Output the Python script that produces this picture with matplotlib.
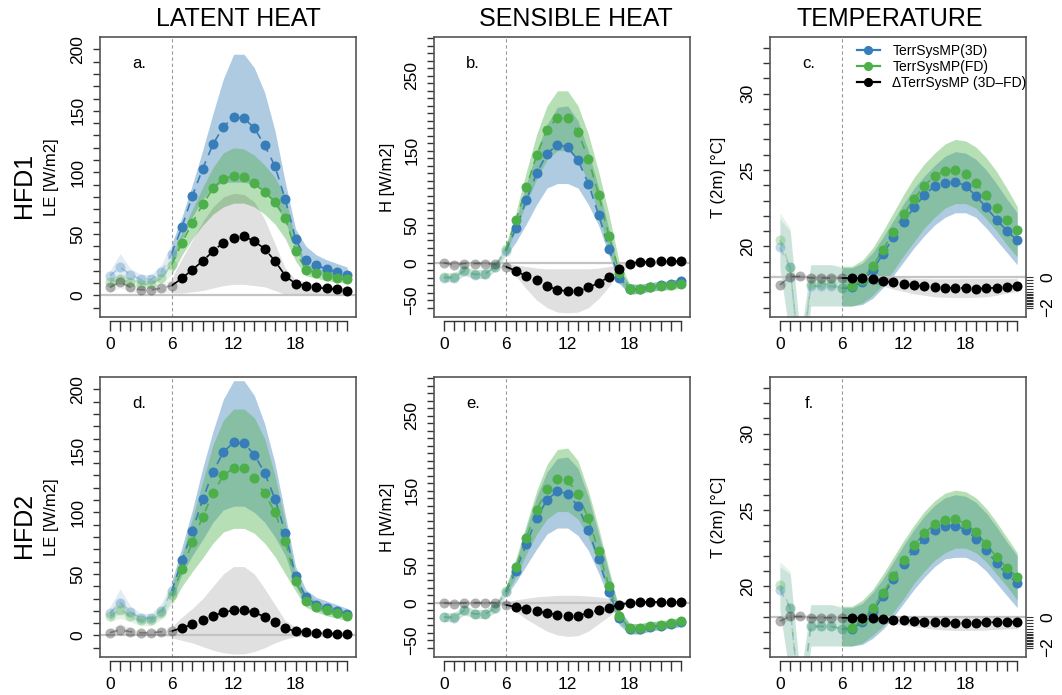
import numpy as np
import matplotlib
matplotlib.use("Agg")
import matplotlib.pyplot as plt
from matplotlib.lines import Line2D
from matplotlib.ticker import FixedLocator, FuncFormatter

plt.rcParams['font.family'] = ['Liberation Sans', 'DejaVu Sans']

hours = np.arange(24)
hour_labels = {0: "0", 6: "6", 12: "12", 18: "18"}

col_titles = ["LATENT HEAT", "SENSIBLE HEAT", "TEMPERATURE"]
row_titles = ["HFD1", "HFD2"]
series_names = ["TerrSysMP(3D)", "TerrSysMP(FD)", "\u0394TerrSysMP (3D\u2013FD)"]

# ---------------- Latent heat, HFD1 ----------------
LE1_3D = [16, 23, 17, 13, 13, 19, 34, 56, 81, 103, 123, 137, 145, 144, 136, 122, 105, 78, 46, 29, 24.5, 21.5, 19, 17]
LE1_3D_lo = [12, 14, 13, 9, 9, 14, 26, 46, 64, 78, 88, 92, 92, 92, 90, 84, 74, 60, 38, 22, 18, 16, 14, 13]
LE1_3D_hi = [20, 34, 22, 17, 17, 25, 42, 64, 90, 118, 148, 176, 196, 196, 185, 165, 134, 92, 54, 40, 33, 29, 26, 23]
LE1_FD = [11, 13, 11, 9, 9, 14, 25, 43, 59, 74, 87, 95, 97, 96, 91, 84, 76, 63, 36, 21, 18, 16, 14, 13]
LE1_FD_lo = [8, 9, 8, 6, 6, 10, 17, 33, 46, 57, 66, 72, 75, 75, 72, 66, 58, 46, 28, 16, 14, 12, 11, 10]
LE1_FD_hi = [14, 17, 14, 12, 12, 18, 32, 52, 70, 88, 104, 116, 120, 119, 114, 106, 96, 80, 46, 26, 22, 20, 18, 17]
LE1_D = [6.5, 11, 6.5, 4.5, 4.5, 6, 8, 14, 21, 28, 36, 43, 47, 48, 44, 38, 28, 16, 9.4, 8, 6.5, 5.7, 5, 4]
LE1_D_lo = [3, 6, 3, 2, 2, 3, 2, 2, 3, 4, 6, 8, 9, 9, 8, 7, 4, 1, 0.5, 1, 1, 1, 1, 1]
LE1_D_hi = [9, 16, 9, 7, 7, 9, 14, 30, 45, 60, 72, 80, 83, 82, 76, 62, 42, 22, 13, 11, 9, 8, 7, 6]

# ---------------- Latent heat, HFD2 ----------------
LE2_3D = [18, 26.5, 19, 14, 14, 20, 36, 61, 85, 110.5, 133, 149, 157, 156, 147, 132, 111, 83.5, 48, 31, 25, 22.5, 20, 17.6]
LE2_3D_lo = [13, 18, 14, 10, 10, 15, 28, 50, 65, 78, 92, 102, 105, 105, 100, 92, 80, 65, 40, 26, 21, 18, 16, 14]
LE2_3D_hi = [23, 38, 24, 18, 18, 26, 44, 72, 102, 136, 166, 192, 207, 207, 195, 172, 140, 98, 56, 37, 31, 28, 25, 22]
LE2_FD = [15.7, 21, 15.7, 12.2, 12.2, 18, 33, 54, 76, 96.5, 115.4, 130, 136, 135.8, 128, 115.4, 100, 77, 44, 28, 23, 20.6, 18, 15.7]
LE2_FD_lo = [11, 14, 11, 8, 8, 13, 25, 40, 52, 63, 75, 84, 87, 87, 83, 75, 64, 50, 36, 23, 19, 16, 14, 12]
LE2_FD_hi = [20, 30, 20, 16, 16, 23, 40, 66, 95, 125, 155, 175, 184, 184, 177, 160, 130, 92, 50, 33, 28, 25, 22, 20]
LE2_D = [2.2, 4.6, 3, 2.2, 2.2, 3, 3.5, 6.2, 9, 12.2, 15.7, 19, 20.3, 20.3, 18.7, 15.2, 11, 5.7, 3.5, 2.7, 1.9, 1.6, 1.4, 1.1]
LE2_D_lo = [0, 0, 0, 0, 0, 0, -2, -4, -6, -9, -12, -14, -15, -15, -13, -10, -6, -3, -1, -1, -1, -1, -1, -1]
LE2_D_hi = [5, 10, 6, 4, 4, 6, 7, 15, 22, 30, 40, 50, 56, 56, 50, 38, 25, 12, 7, 5, 4, 4, 3, 3]

# ---------------- Sensible heat, HFD1 ----------------
H1_3D = [-20, -20, -11, -16, -15, -5, 16, 46, 84, 120, 146, 158, 155, 137, 106, 64, 18, -20, -35, -35, -32, -30, -29, -25]
H1_3D_lo = [-26, -26, -17, -22, -21, -11, 8, 28, 52, 78, 100, 106, 106, 100, 78, 50, 10, -28, -42, -41, -38, -36, -35, -31]
H1_3D_hi = [-14, -14, -5, -10, -9, 1, 22, 58, 105, 150, 185, 208, 210, 190, 150, 100, 45, -12, -28, -29, -27, -25, -24, -20]
H1_FD = [-19, -19, -10, -15, -15, -5, 18, 57, 101, 144, 178, 194, 194, 175, 139, 91, 36, -13, -35, -35, -32, -31, -30, -28]
H1_FD_lo = [-25, -25, -16, -21, -21, -11, 12, 45, 80, 112, 138, 150, 150, 138, 108, 65, 15, -25, -42, -41, -38, -37, -36, -34]
H1_FD_hi = [-13, -13, -4, -9, -9, 1, 24, 68, 122, 172, 210, 230, 230, 210, 172, 122, 65, 0, -28, -29, -26, -25, -24, -21]
H1_D = [0, -3, -1, -1, -1, -2, -5, -11, -18, -23, -31, -36, -38, -38, -33, -27, -19, -8, -1, 1, 1.3, 2, 2, 2]
H1_D_lo = [-3, -6, -4, -4, -4, -5, -8, -18, -35, -50, -60, -66, -67, -66, -60, -48, -32, -12, -4, -2, -2, -2, -2, -2]
H1_D_hi = [3, 0, 2, 2, 2, 1, 0, -3, -5, -7, -8, -8, -8, -8, -8, -7, -5, -2, 3, 4, 4, 4, 4, 4]

# ---------------- Sensible heat, HFD2 ----------------
H2_3D = [-19, -20, -10, -15, -15, -7, 14, 43, 79, 113, 138, 149, 146, 129, 97, 58, 14, -20, -35, -35, -32, -30.5, -28, -26]
H2_3D_lo = [-25, -26, -16, -21, -21, -13, 8, 28, 50, 72, 92, 100, 100, 90, 70, 40, 5, -30, -42, -42, -38, -36, -34, -32]
H2_3D_hi = [-13, -14, -4, -9, -9, -1, 20, 55, 100, 142, 175, 193, 195, 180, 142, 92, 40, -10, -28, -28, -26, -25, -23, -20]
H2_FD = [-19, -19, -10, -15, -15, -7, 16, 48, 87, 124, 152, 166, 164, 145, 113, 69, 22, -18, -34, -34, -31, -29.6, -27, -25]
H2_FD_lo = [-25, -25, -16, -21, -21, -13, 10, 35, 65, 92, 112, 122, 122, 112, 88, 52, 10, -27, -41, -41, -37, -35, -33, -31]
H2_FD_hi = [-13, -13, -4, -9, -9, -1, 22, 60, 105, 150, 185, 205, 207, 190, 150, 100, 45, -8, -28, -28, -25, -24, -22, -19]
H2_D = [0, -1.3, 0, 0, 0, 0, -2.7, -5.8, -8, -11, -14, -16, -17.5, -17, -14, -10, -7, -2.7, 0, 0.9, 1.3, 1.3, 1.3, 1.3]
H2_D_lo = [-3, -4, -3, -3, -3, -3, -4, -12, -22, -30, -38, -43, -45, -44, -38, -28, -18, -7, -2, -1, -1, -1, -1, -1]
H2_D_hi = [3, 2, 3, 3, 3, 3, 1, 4, 6, 8, 9, 10, 10, 10, 9, 8, 6, 3, 2, 3, 3, 3, 3, 3]

# ---------------- 2 m temperature, HFD1 ----------------
T1_3D = [19.93, 18.63, 12.0, 17.39, 17.39, 17.39, 17.25, 17.32, 17.7, 18.47, 19.5, 20.6, 21.6, 22.55, 23.35, 23.96, 24.18, 24.23, 23.96, 23.3, 22.55, 21.74, 21.02, 20.39]
T1_3D_lo = [18.5, 14.0, 10.0, 16.1, 16.1, 16.1, 16.1, 16.1, 16.2, 16.6, 17.3, 18.1, 19.0, 19.9, 20.7, 21.4, 21.9, 22.2, 22.2, 21.9, 21.2, 20.4, 19.6, 18.8]
T1_3D_hi = [21.8, 21.0, 14.0, 18.8, 18.8, 18.8, 18.6, 18.6, 18.9, 19.6, 20.6, 21.7, 22.8, 23.8, 24.6, 25.3, 25.9, 26.2, 26.1, 25.7, 25.0, 24.1, 23.1, 22.2]
T1_FD = [20.44, 18.63, 12.0, 17.54, 17.54, 17.54, 17.25, 17.39, 17.82, 18.7, 19.78, 20.96, 22.09, 23.1, 23.96, 24.62, 24.95, 24.99, 24.73, 24.14, 23.35, 22.5, 21.74, 21.05]
T1_FD_lo = [18.8, 14.0, 10.0, 16.1, 16.1, 16.1, 16.1, 16.1, 16.3, 16.8, 17.5, 18.4, 19.4, 20.3, 21.2, 21.9, 22.5, 22.8, 22.8, 22.5, 21.8, 21.0, 20.1, 19.3]
T1_FD_hi = [22.2, 21.2, 14.0, 18.8, 18.8, 18.8, 18.7, 18.7, 19.1, 19.9, 21.0, 22.2, 23.4, 24.5, 25.4, 26.1, 26.7, 27.0, 26.9, 26.5, 25.8, 24.9, 23.8, 22.6]
T1_D = [-0.53, 0.02, 0.04, -0.07, -0.07, -0.07, -0.07, -0.07, -0.09, -0.13, -0.29, -0.35, -0.46, -0.53, -0.61, -0.68, -0.7, -0.72, -0.72, -0.77, -0.74, -0.7, -0.64, -0.57]
T1_D_lo = [-0.8, -0.2, -0.2, -0.2, -0.2, -0.2, -0.1, -0.15, -0.25, -0.4, -0.6, -0.8, -0.95, -1.1, -1.2, -1.3, -1.33, -1.35, -1.35, -1.33, -1.3, -1.2, -1.05, -0.95]
T1_D_hi = [-0.3, 0.2, 0.2, 0.1, 0.1, 0.1, 0.05, 0.05, 0.1, 0.1, 0.05, 0.0, -0.05, -0.1, -0.1, -0.12, -0.12, -0.12, -0.1, -0.1, -0.1, -0.1, -0.1, -0.1]

# ---------------- 2 m temperature, HFD2 ----------------
T2_3D = [19.78, 18.6, 12.0, 17.38, 17.38, 17.38, 17.23, 17.23, 17.66, 18.38, 19.34, 20.5, 21.44, 22.36, 23.12, 23.67, 23.93, 23.97, 23.71, 23.12, 22.36, 21.53, 20.79, 20.22]
T2_3D_lo = [18.4, 14.0, 10.0, 16.1, 16.1, 16.1, 16.1, 16.1, 16.2, 16.6, 17.2, 18.0, 18.9, 19.8, 20.6, 21.3, 21.8, 21.9, 21.9, 21.6, 21.0, 20.2, 19.4, 18.6]
T2_3D_hi = [21.3, 20.8, 14.0, 18.8, 18.8, 18.8, 18.6, 18.6, 18.9, 19.6, 20.5, 21.6, 22.7, 23.7, 24.6, 25.3, 25.8, 26.0, 25.9, 25.5, 24.8, 23.9, 22.9, 22.0]
T2_FD = [20.07, 18.6, 12.0, 17.38, 17.38, 17.38, 17.23, 17.29, 17.77, 18.58, 19.56, 20.65, 21.7, 22.69, 23.49, 24.06, 24.37, 24.41, 24.1, 23.56, 22.75, 21.92, 21.22, 20.61]
T2_FD_lo = [18.6, 14.0, 10.0, 16.1, 16.1, 16.1, 16.1, 16.1, 16.3, 16.8, 17.4, 18.3, 19.2, 20.2, 21.0, 21.7, 22.2, 22.5, 22.5, 22.2, 21.6, 20.8, 20.0, 19.1]
T2_FD_hi = [21.6, 21.0, 14.0, 18.8, 18.8, 18.8, 18.7, 18.7, 19.1, 19.8, 20.8, 21.9, 23.0, 24.0, 24.9, 25.6, 26.1, 26.3, 26.2, 25.8, 25.1, 24.2, 23.2, 22.2]
T2_D = [-0.27, 0.03, 0.04, -0.05, -0.05, -0.05, -0.05, -0.05, -0.05, -0.07, -0.12, -0.17, -0.22, -0.26, -0.3, -0.33, -0.36, -0.38, -0.38, -0.38, -0.36, -0.34, -0.32, -0.3]
T2_D_lo = [-0.5, -0.15, -0.15, -0.2, -0.2, -0.2, -0.05, -0.1, -0.15, -0.25, -0.35, -0.45, -0.55, -0.65, -0.72, -0.8, -0.85, -0.88, -0.88, -0.87, -0.85, -0.82, -0.78, -0.75]
T2_D_hi = [0.0, 0.2, 0.2, 0.1, 0.1, 0.1, 0.05, 0.1, 0.1, 0.1, 0.1, 0.1, 0.1, 0.1, 0.1, 0.1, 0.1, 0.1, 0.1, 0.1, 0.1, 0.1, 0.1, 0.1]

BLUE = "#377EB8"
GREEN = "#4DAF4A"
BOX = "#555555"
TICK = "#333333"

W, H = 1062, 695
fig = plt.figure(figsize=(W / 100, H / 100), dpi=100)

col_left = [100, 434, 770]
row_top = [37, 377]
AW, AH = 256, 280
XLIM = (-0.95, 23.85)
title_shift = [10, 14, -8]

spec = {
    "LE": dict(ylim=(-17.5, 210), ticks=np.arange(-10, 201, 10), labels=[0, 50, 100, 150, 200],
               ylabel="LE [W/m2]", yl_x=-0.189, offset=0.0),
    "H": dict(ylim=(-72.5, 302), ticks=np.arange(-60, 301, 10), labels=[-50, 50, 150, 250, 0],
              ylabel="H [W/m2]", yl_x=-0.18, offset=0.0),
    "T": dict(ylim=(15.38, 33.7), ticks=np.arange(16, 34, 1), labels=[20, 25, 30],
              ylabel="T (2m) [\u00b0C]", yl_x=-0.203, offset=18.0),
}

panels = [
    (0, 0, "LE", "a.", (LE1_3D, LE1_3D_lo, LE1_3D_hi), (LE1_FD, LE1_FD_lo, LE1_FD_hi), (LE1_D, LE1_D_lo, LE1_D_hi)),
    (0, 1, "H", "b.", (H1_3D, H1_3D_lo, H1_3D_hi), (H1_FD, H1_FD_lo, H1_FD_hi), (H1_D, H1_D_lo, H1_D_hi)),
    (0, 2, "T", "c.", (T1_3D, T1_3D_lo, T1_3D_hi), (T1_FD, T1_FD_lo, T1_FD_hi), (T1_D, T1_D_lo, T1_D_hi)),
    (1, 0, "LE", "d.", (LE2_3D, LE2_3D_lo, LE2_3D_hi), (LE2_FD, LE2_FD_lo, LE2_FD_hi), (LE2_D, LE2_D_lo, LE2_D_hi)),
    (1, 1, "H", "e.", (H2_3D, H2_3D_lo, H2_3D_hi), (H2_FD, H2_FD_lo, H2_FD_hi), (H2_D, H2_D_lo, H2_D_hi)),
    (1, 2, "T", "f.", (T2_3D, T2_3D_lo, T2_3D_hi), (T2_FD, T2_FD_lo, T2_FD_hi), (T2_D, T2_D_lo, T2_D_hi)),
]

early = slice(0, 7)
late = slice(6, 24)
early_pts = slice(0, 7)
late_pts = slice(7, 24)
dash = (0, (5, 4))
MS = 7.2

for r, c, kind, letter, s3d, sfd, sd in panels:
    sp = spec[kind]
    off = sp["offset"]
    left = col_left[c] / W
    bottom = 1 - (row_top[r] + AH) / H
    ax = fig.add_axes([left, bottom, AW / W, AH / H])
    ax.set_xlim(*XLIM)
    ax.set_ylim(*sp["ylim"])

    # bands
    for (m, lo, hi), col in ((s3d, BLUE), (sfd, GREEN)):
        lo = np.array(lo); hi = np.array(hi)
        ax.fill_between(hours[early], lo[early], hi[early], color=col, alpha=0.14, lw=0, zorder=1)
        ax.fill_between(hours[late], lo[late], hi[late], color=col, alpha=0.4, lw=0, zorder=1)
    m, lo, hi = (np.array(a) + off for a in sd)
    ax.fill_between(hours[early], lo[early], hi[early], color="black", alpha=0.05, lw=0, zorder=1)
    ax.fill_between(hours[late], lo[late], hi[late], color="black", alpha=0.12, lw=0, zorder=1)

    ax.axhline(off, color="#c4c4c4", lw=1.6, zorder=2)
    ax.axvline(6, color="#9a9a9a", lw=0.8, ls=(0, (3, 2.5)), zorder=2)

    # lines + points
    for (mm, _, _), col in ((s3d, BLUE), (sfd, GREEN), ((np.array(sd[0]) + off, 0, 0), "black")):
        mm = np.array(mm)
        ax.plot(hours[early], mm[early], color=col, alpha=0.3, lw=1.2, ls=dash, zorder=3)
        ax.plot(hours[late], mm[late], color=col, lw=1.2, ls=dash, zorder=3)
        ax.plot(hours[early_pts], mm[early_pts], "o", color=col, alpha=0.3, ms=MS, mew=0, zorder=4)
        ax.plot(hours[late_pts], mm[late_pts], "o", color=col, ms=MS, mew=0, zorder=5)

    # frame
    for side in ("top", "right", "left"):
        ax.spines[side].set_color(BOX)
        ax.spines[side].set_linewidth(1.2)
    ax.spines["bottom"].set_position(("outward", 3))
    ax.spines["bottom"].set_bounds(0, 23)
    ax.spines["bottom"].set_color(TICK)
    ax.spines["bottom"].set_linewidth(1.0)
    ax.plot([0, 1], [0, 0], transform=ax.transAxes, color=BOX, lw=1.2, clip_on=False, zorder=6)

    ax.xaxis.set_major_locator(FixedLocator(hours))
    ax.xaxis.set_major_formatter(FuncFormatter(lambda v, p: hour_labels.get(int(round(v)), "")))
    ax.tick_params(axis="x", length=7.2, width=1.0, color=TICK, labelsize=12.5, pad=4)

    labs = set(sp["labels"])
    ax.yaxis.set_major_locator(FixedLocator(sp["ticks"]))
    ax.yaxis.set_major_formatter(FuncFormatter(
        lambda v, p, labs=labs: (f"{int(round(v))}".replace("-", "\u2212") if int(round(v)) in labs and abs(v - round(v)) < 1e-6 else "")))
    ax.tick_params(axis="y", length=5, width=1.0, color=TICK, labelsize=12.5, pad=5.5,
                   labelrotation=90)
    for t in ax.get_yticklabels():
        t.set_va("center")

    ax.text(sp["yl_x"], 0.5, sp["ylabel"], transform=ax.transAxes, rotation=90,
            ha="center", va="center", fontsize=12)
    ax.text(0.152, 0.905, letter, transform=ax.transAxes, ha="center", va="center", fontsize=12)

    if kind == "T":
        sec = ax.secondary_yaxis("right", functions=(lambda y: y - 18.0, lambda d: d + 18.0))
        sec_ticks = list(np.round(np.arange(0, -1.01, -0.2), 2)) + list(np.round(np.arange(-1.1, -2.01, -0.1), 2))
        sec.yaxis.set_major_locator(FixedLocator(sec_ticks))
        sec.yaxis.set_major_formatter(FuncFormatter(
            lambda v, p: ("0" if abs(v) < 1e-6 else ("\u22122" if abs(v + 2) < 1e-6 else ""))))
        sec.tick_params(axis="y", length=5, width=0.8, color=TICK, labelsize=12.5, pad=5, labelrotation=90)
        for t in sec.get_yticklabels():
            t.set_va("center")
        sec.spines["right"].set_visible(False)

    if letter == "c.":
        handles = [Line2D([0], [0], color=BLUE, marker="o", ms=6.6, mew=0, lw=1.6),
                   Line2D([0], [0], color=GREEN, marker="o", ms=6.6, mew=0, lw=1.6),
                   Line2D([0], [0], color="black", marker="o", ms=6.6, mew=0, lw=1.6)]
        ax.legend(handles, series_names, loc="upper left", bbox_to_anchor=(0.34, 0.975),
                  frameon=False, fontsize=10, handlelength=1.65, handletextpad=0.9,
                  labelspacing=0.15, borderpad=0, borderaxespad=0)

# column titles
for c, t in enumerate(col_titles):
    xc = (col_left[c] + AW / 2 + title_shift[c]) / W
    fig.text(xc, 1 - 19 / H, t, ha="center", va="center", fontsize=18)
# row titles
for r, t in enumerate(row_titles):
    yc = 1 - (row_top[r] + AH / 2 + 8) / H
    fig.text(24 / W, yc, t, ha="center", va="center", rotation=90, fontsize=18)

fig.savefig("out.png", dpi=100)
